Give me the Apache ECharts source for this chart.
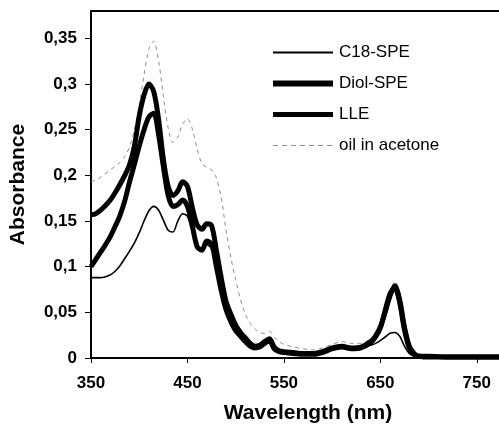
<!DOCTYPE html>
<html>
<head>
<meta charset="utf-8">
<script src="https://cdn.jsdelivr.net/npm/echarts@6/dist/echarts.min.js"></script>
<style>
html,body{margin:0;padding:0;background:#fff;}
#chart{width:499px;height:428px;}
</style>
</head>
<body>
<div id="chart"></div>
<script>
// Wavelengths (nm)
const wavelengths = [350,355,360,365,370,375,380,385,390,395,400,405,410,415,420,425,430,435,440,445,450,455,460,465,470,475,480,485,490,495,500,505,510,515,520,525,530,535,540,545,550,560,570,580,590,600,610,620,630,640,645,650,655,660,665,670,675,680,685,690,700,720,750,780,800];

const c18Values = [0.088,0.088,0.088,0.089,0.091,0.095,0.101,0.109,0.117,0.126,0.137,0.150,0.161,0.166,0.162,0.151,0.140,0.138,0.150,0.158,0.155,0.138,0.120,0.117,0.124,0.120,0.097,0.070,0.050,0.036,0.028,0.022,0.017,0.013,0.011,0.012,0.015,0.017,0.011,0.008,0.007,0.006,0.005,0.005,0.007,0.010,0.012,0.011,0.011,0.014,0.016,0.019,0.023,0.027,0.028,0.024,0.013,0.005,0.002,0.001,0.001,0.001,0.001,0.001,0.001];

const diolValues = [0.157,0.158,0.162,0.167,0.173,0.181,0.190,0.200,0.212,0.232,0.265,0.288,0.300,0.292,0.262,0.218,0.188,0.178,0.183,0.193,0.188,0.165,0.146,0.141,0.147,0.145,0.118,0.088,0.062,0.048,0.036,0.028,0.022,0.016,0.013,0.014,0.018,0.021,0.012,0.008,0.007,0.006,0.005,0.005,0.007,0.011,0.013,0.011,0.012,0.018,0.024,0.034,0.050,0.068,0.079,0.064,0.034,0.013,0.005,0.002,0.002,0.001,0.001,0.001,0.001];

const lleValues = [0.100,0.108,0.116,0.124,0.133,0.144,0.156,0.172,0.193,0.212,0.232,0.250,0.264,0.268,0.245,0.210,0.178,0.166,0.168,0.173,0.166,0.145,0.122,0.118,0.128,0.125,0.100,0.074,0.053,0.040,0.030,0.024,0.018,0.013,0.011,0.012,0.016,0.019,0.010,0.007,0.006,0.005,0.004,0.004,0.006,0.010,0.012,0.010,0.011,0.017,0.023,0.033,0.052,0.070,0.077,0.061,0.031,0.011,0.004,0.002,0.001,0.001,0.001,0.001,0.001];

const oilValues = [0.193,0.195,0.198,0.202,0.206,0.210,0.214,0.221,0.231,0.250,0.276,0.310,0.338,0.347,0.326,0.287,0.252,0.236,0.242,0.256,0.262,0.251,0.229,0.213,0.209,0.206,0.197,0.176,0.140,0.110,0.086,0.064,0.048,0.038,0.032,0.028,0.027,0.029,0.023,0.018,0.015,0.012,0.010,0.009,0.011,0.015,0.018,0.016,0.016,0.021,0.026,0.034,0.048,0.068,0.084,0.072,0.042,0.016,0.007,0.004,0.003,0.003,0.003,0.003,0.003];

const xTicks = [350,450,550,650,750];
const yTicks = [0,0.05,0.1,0.15,0.2,0.25,0.3,0.35];
const seriesNames = ['C18-SPE','Diol-SPE','LLE','oil in acetone'];

function pairs(vals){ return wavelengths.map((w,i)=>[w, vals[i]]); }

const chart = echarts.init(document.getElementById('chart'), null, {renderer:'canvas'});
const FONT = 'Liberation Sans, Arial, sans-serif';
const OIL = '#8c8c8c';

chart.setOption({
  animation:false,
  backgroundColor:'#fff',
  grid:{left:91, top:11, width:434, height:347, show:true, borderColor:'#000', borderWidth:2, outerBoundsMode:'none', containLabel:false},
  legend:{
    orient:'vertical', left:270, top:44, padding:0,
    itemWidth:60, itemHeight:14, itemGap:14,
    itemStyle:{opacity:0},
    data:[
      {name:seriesNames[0], lineStyle:{width:2, color:'#000'}},
      {name:seriesNames[1], lineStyle:{width:6, color:'#000'}},
      {name:seriesNames[2], lineStyle:{width:5, color:'#000'}},
      {name:seriesNames[3], lineStyle:{width:1, color:OIL, type:[5,4]}}
    ],
    textStyle:{fontFamily:FONT, fontSize:17, color:'#000', lineHeight:17, padding:[0,0,0,1]}
  },
  xAxis:{
    type:'value', min:350, max:800,
    name:'Wavelength (nm)', nameLocation:'middle', nameGap:45,
    nameTextStyle:{fontFamily:FONT, fontWeight:'bold', fontSize:21, color:'#000'},
    axisLine:{show:true, lineStyle:{color:'#000', width:2}},
    axisTick:{show:true, length:5, lineStyle:{color:'#000', width:1}, customValues:xTicks},
    axisLabel:{fontFamily:FONT, fontWeight:'bold', fontSize:17, color:'#000', margin:17, customValues:xTicks},
    splitLine:{show:false}
  },
  yAxis:{
    type:'value', min:0, max:0.38,
    name:'Absorbance', nameLocation:'middle', nameGap:62,
    nameTextStyle:{fontFamily:FONT, fontWeight:'bold', fontSize:21, color:'#000'},
    axisLine:{show:true, lineStyle:{color:'#000', width:2}},
    axisTick:{show:true, length:6, lineStyle:{color:'#000', width:1}, customValues:yTicks},
    axisLabel:{fontFamily:FONT, fontWeight:'bold', fontSize:17, color:'#000', margin:14, customValues:yTicks,
      formatter:v=>String(Math.round(v*100)/100).replace('.',',')},
    splitLine:{show:false}
  },
  series:[
    {name:'oil in acetone', type:'line', data:pairs(oilValues), smooth:0.3, symbol:'none', z:1,
     lineStyle:{color:OIL, width:1, type:[4,4]}, itemStyle:{color:OIL}},
    {name:'C18-SPE', type:'line', data:pairs(c18Values), smooth:0.3, symbol:'none', z:2,
     lineStyle:{color:'#000', width:1.6}, itemStyle:{color:'#000'}},
    {name:'Diol-SPE', type:'line', data:pairs(diolValues), smooth:0.3, symbol:'none', z:3,
     lineStyle:{color:'#000', width:5}, itemStyle:{color:'#000'}},
    {name:'LLE', type:'line', data:pairs(lleValues), smooth:0.3, symbol:'none', z:3,
     lineStyle:{color:'#000', width:5}, itemStyle:{color:'#000'}}
  ]
});
</script>
</body>
</html>
